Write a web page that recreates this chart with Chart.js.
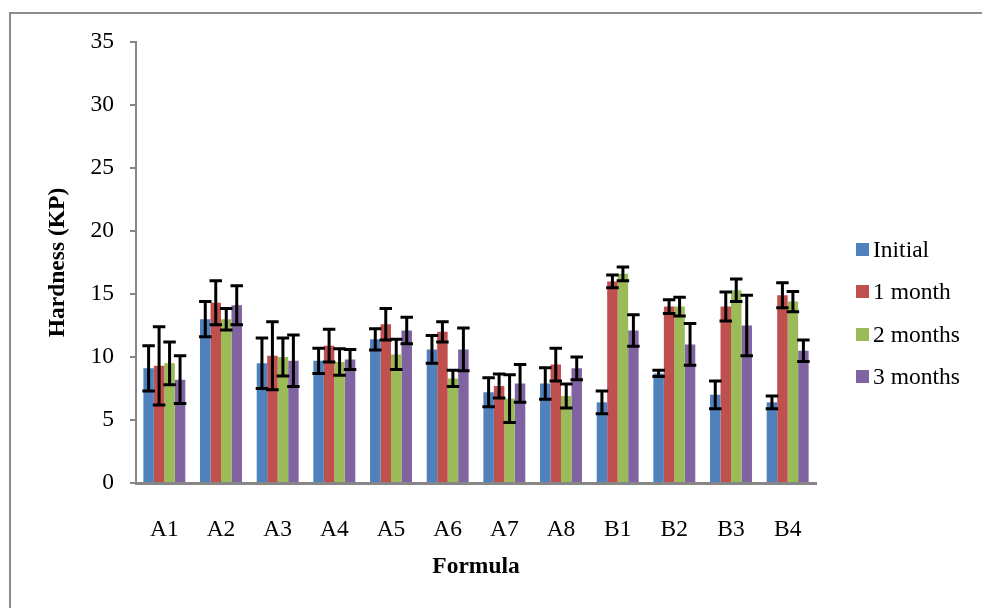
<!DOCTYPE html>
<html>
<head>
<meta charset="utf-8">
<script src="https://cdn.jsdelivr.net/npm/chart.js@4/dist/chart.umd.min.js"></script>
<style>
    html, body {
        margin: 0;
        padding: 0;
        background: #ffffff;
    }
    .frame {
        position: relative;
        width: 982px;
        height: 608px;
        overflow: hidden;
    }
    .frame-border {
        position: absolute;
        left: 9px;
        top: 12px;
        width: 1200px;
        height: 800px;
        border-top: 2px solid #8c8c8c;
        border-left: 2px solid #8c8c8c;
    }
    #hardnessChart {
        position: absolute;
        left: 0;
        top: 0;
    }
    .legend {
        position: absolute;
        left: 856px;
        top: 228px;
        font-family: "Liberation Serif", "Times New Roman", serif;
        font-size: 23.5px;
        color: #000000;
    }
    .legend-item {
        display: flex;
        align-items: center;
        height: 42.5px;
        white-space: nowrap;
    }
    .legend-swatch {
        width: 13px;
        height: 13px;
        margin-right: 4px;
    }
</style>
</head>
<body>
<div class="frame">
    <div class="frame-border"></div>
    <canvas id="hardnessChart" width="982" height="608"></canvas>
    <div class="legend" id="legend"></div>
</div>
<script>
const formulas = ["A1", "A2", "A3", "A4", "A5", "A6", "A7", "A8", "B1", "B2", "B3", "B4"];
const seriesNames = ["Initial", "1 month", "2 months", "3 months"];
const seriesColors = ["#4f81bd", "#c0504d", "#9bbb59", "#8064a2"];

const initial = [9.1, 13.0, 9.5, 9.7, 11.4, 10.6, 7.2, 7.9, 6.4, 8.7, 7.0, 6.4];
const oneMonth = [9.3, 14.3, 10.1, 10.9, 12.6, 12.0, 7.7, 9.4, 16.0, 14.0, 14.0, 14.9];
const twoMonths = [9.5, 13.0, 10.0, 9.6, 10.2, 8.3, 6.7, 6.9, 16.6, 14.0, 15.3, 14.4];
const threeMonths = [8.2, 14.1, 9.7, 9.8, 12.1, 10.6, 7.9, 9.1, 12.1, 11.0, 12.5, 10.5];

// standard deviations shown as error bars
const initialSd = [1.8, 1.4, 2.0, 1.0, 0.85, 1.1, 1.15, 1.25, 0.9, 0.25, 1.1, 0.5];
const oneMonthSd = [3.1, 1.75, 2.7, 1.3, 1.25, 0.8, 0.95, 1.3, 0.5, 0.55, 1.15, 1.0];
const twoMonthsSd = [1.7, 0.85, 1.5, 1.05, 1.2, 0.65, 1.9, 0.95, 0.55, 0.75, 0.9, 0.8];
const threeMonthsSd = [1.9, 1.55, 2.05, 0.8, 1.05, 1.7, 1.5, 0.9, 1.25, 1.65, 2.4, 0.85];

const yTicks = [0, 5, 10, 15, 20, 25, 30, 35];

const seriesValues = [initial, oneMonth, twoMonths, threeMonths];
const seriesErrors = [initialSd, oneMonthSd, twoMonthsSd, threeMonthsSd];

const fontFamily = "'Liberation Serif', 'Times New Roman', serif";
const axisGray = "#868686";

const errorBars = {
    id: "errorBars",
    afterDatasetsDraw(chart) {
        const { ctx } = chart;
        const yScale = chart.scales.y;
        ctx.save();
        ctx.strokeStyle = "#000000";
        ctx.lineWidth = 3;
        ctx.lineCap = "butt";
        chart.data.datasets.forEach((dataset, datasetIndex) => {
            const meta = chart.getDatasetMeta(datasetIndex);
            meta.data.forEach((bar, index) => {
                const value = dataset.data[index];
                const err = dataset.errors[index];
                const top = yScale.getPixelForValue(value + err);
                const bottom = yScale.getPixelForValue(value - err);
                const half = bar.width / 2 + 1;
                ctx.beginPath();
                ctx.moveTo(bar.x, top);
                ctx.lineTo(bar.x, bottom);
                ctx.moveTo(bar.x - half, top);
                ctx.lineTo(bar.x + half, top);
                ctx.moveTo(bar.x - half, bottom);
                ctx.lineTo(bar.x + half, bottom);
                ctx.stroke();
            });
        });
        ctx.restore();
    }
};

function renderLegend() {
    document.getElementById("legend").innerHTML = seriesNames.map((name, i) => `
        <div class="legend-item">
            <span class="legend-swatch" style="background:${seriesColors[i]}"></span>
            <span>${name}</span>
        </div>
    `).join("");
}

function renderChart() {
    const canvas = document.getElementById("hardnessChart");

    new Chart(canvas, {
        type: "bar",
        data: {
            labels: formulas,
            datasets: seriesNames.map((name, i) => ({
                label: name,
                data: seriesValues[i],
                errors: seriesErrors[i],
                backgroundColor: seriesColors[i],
                borderWidth: 0,
                categoryPercentage: 0.74,
                barPercentage: 1.0
            }))
        },
        options: {
            responsive: false,
            animation: false,
            devicePixelRatio: 1,
            layout: {
                padding: { left: 0, top: 42, right: 166, bottom: 0 }
            },
            plugins: {
                legend: { display: false },
                tooltip: { enabled: false }
            },
            scales: {
                x: {
                    grid: { display: false },
                    border: { display: true, color: axisGray, width: 3 },
                    ticks: {
                        color: "#000000",
                        padding: 25,
                        font: { family: fontFamily, size: 23.5 }
                    },
                    title: {
                        display: true,
                        text: "Formula",
                        color: "#000000",
                        padding: { top: 0, bottom: 27 },
                        font: { family: fontFamily, size: 23.5, weight: "bold" }
                    },
                    afterFit(scale) {
                        scale.height = 125;
                    }
                },
                y: {
                    min: 0,
                    max: 35,
                    afterBuildTicks(scale) {
                        scale.ticks = yTicks.map((value) => ({ value }));
                    },
                    grid: {
                        display: true,
                        drawOnChartArea: false,
                        drawTicks: true,
                        tickLength: 6,
                        color: axisGray,
                        lineWidth: 2
                    },
                    border: { display: true, color: axisGray, width: 2 },
                    ticks: {
                        color: "#000000",
                        padding: 16,
                        font: { family: fontFamily, size: 23.5 }
                    },
                    title: {
                        display: true,
                        text: "Hardness (KP)",
                        color: "#000000",
                        padding: { top: 44, bottom: 0 },
                        font: { family: fontFamily, size: 23.5, weight: "bold" }
                    },
                    afterFit(scale) {
                        scale.width = 136;
                    }
                }
            }
        },
        plugins: [errorBars]
    });
}

document.addEventListener("DOMContentLoaded", () => {
    renderLegend();
    renderChart();
});
</script>
</body>
</html>
